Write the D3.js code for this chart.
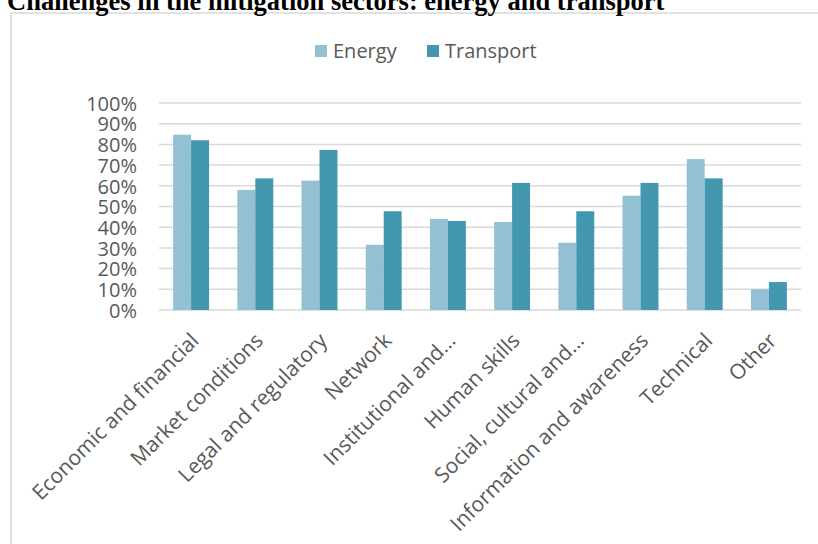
<!DOCTYPE html>
<html><head><meta charset="utf-8">
<script src="https://cdn.jsdelivr.net/npm/d3@7"></script>
<style>body{margin:0;background:#fff;} svg{display:block;}</style>
</head><body>
<svg id="c" width="818" height="544"></svg>
<script>
const title = "Challenges in the mitigation sectors: energy and transport";
const categories = ["Economic and financial","Market conditions","Legal and regulatory","Network","Institutional and…","Human skills","Social, cultural and…","Information and awareness","Technical","Other"];
const seriesNames = ["Energy","Transport"];
const energy = [0.847,0.58,0.625,0.315,0.44,0.425,0.325,0.552,0.729,0.10];
const transport = [0.82,0.636,0.773,0.477,0.43,0.614,0.477,0.614,0.636,0.135];
const yTicks = [0,0.1,0.2,0.3,0.4,0.5,0.6,0.7,0.8,0.9,1.0];
const colors = ["#93C1D3","#4398B0"];

const svg = d3.select("#c");
const font = "'Open Sans', sans-serif";
const gray = "#595959";

// frame
svg.append("rect").attr("x",11).attr("y",13).attr("width",830).attr("height",560)
  .attr("fill","none").attr("stroke","#d9d9d9").attr("stroke-width",1.5);

// title
svg.append("text").attr("x",7).attr("y",9.5).text(title)
  .attr("font-family","'Liberation Serif', 'Times New Roman', serif").attr("font-weight","bold")
  .attr("font-size",26.5).attr("fill","#000");

const x0 = d3.scaleBand().domain(categories).range([159,801]).paddingInner(0.44).paddingOuter(0.22);
const x1 = d3.scaleBand().domain(seriesNames).range([0,x0.bandwidth()]);
const y = d3.scaleLinear().domain([0,1]).range([310,103]);

// grid
svg.append("g").selectAll("line").data(yTicks).join("line")
  .attr("x1",159).attr("x2",801).attr("y1",d=>y(d)).attr("y2",d=>y(d))
  .attr("stroke","#d9d9d9").attr("stroke-width",1.5);

// y axis labels
const yAxis = d3.axisLeft(y).tickValues(yTicks).tickFormat(d3.format(".0%")).tickSize(0).tickPadding(0);
const gy = svg.append("g").attr("transform","translate(137,0)").call(yAxis);
gy.select(".domain").remove();
gy.selectAll("text").attr("font-family",font).attr("font-size",20).attr("fill",gray).attr("dy","0.36em");

// bars
const data = categories.map((c,i)=>({c, vals:[energy[i],transport[i]]}));
const groups = svg.append("g").selectAll("g").data(data).join("g")
  .attr("transform",d=>`translate(${x0(d.c)},0)`);
groups.selectAll("rect").data(d=>d.vals.map((v,j)=>({v,s:seriesNames[j],j}))).join("rect")
  .attr("x",d=>x1(d.s)).attr("width",x1.bandwidth())
  .attr("y",d=>y(d.v)).attr("height",d=>y(0)-y(d.v))
  .attr("fill",d=>colors[d.j]);

// x labels
const xAxis = d3.axisBottom(x0).tickSize(0).tickPadding(0);
const gx = svg.append("g").attr("transform","translate(0,310)").call(xAxis);
gx.select(".domain").remove();
gx.selectAll("text").attr("font-family",font).attr("font-size",21).attr("fill",gray)
  .attr("text-anchor","end").attr("dy",0)
  .attr("transform","translate(9,32) rotate(-45)");

// legend
const leg = svg.append("g");
const legX = [315,427];
seriesNames.forEach((s,i)=>{
  leg.append("rect").attr("x",legX[i]).attr("y",45).attr("width",12).attr("height",12).attr("fill",colors[i]);
  leg.append("text").attr("x",legX[i]+18).attr("y",58).text(s)
    .attr("font-family",font).attr("font-size",20).attr("fill",gray);
});
</script>
</body></html>
